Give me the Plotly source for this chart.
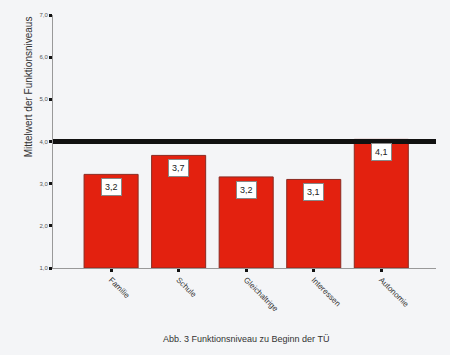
import plotly.graph_objects as go

categories = ["Familie", "Schule", "Gleichaltrige", "Interessen", "Autonomie"]
values = [3.22, 3.67, 3.16, 3.1, 4.05]
value_labels = ["3,2", "3,7", "3,2", "3,1", "4,1"]
tick_vals = [1, 2, 3, 4, 5, 6, 7]
tick_text = ["1,0", "2,0", "3,0", "4,0", "5,0", "6,0", "7,0"]
reference_level = 4.0

fig = go.Figure()
fig.add_trace(go.Bar(
    x=categories, y=[v - 1 for v in values], base=1,
    marker=dict(color="#e3210f", line=dict(color="#8a2a20", width=1)),
    width=0.8, hoverinfo="skip",
))

for c, v, lab in zip(categories, values, value_labels):
    fig.add_annotation(x=c, y=v, text=lab, showarrow=False, yanchor="top", yshift=-4,
                       font=dict(family="Liberation Sans, Arial", size=9, color="#222"),
                       bgcolor="white", bordercolor="#888", borderwidth=1, borderpad=3)

fig.add_shape(type="line", xref="paper", yref="y", x0=0, x1=1, y0=reference_level, y1=reference_level,
              line=dict(color="#111", width=5))

fig.add_annotation(xref="paper", yref="paper", x=0.504, y=-0.281, xanchor="center", yanchor="middle",
                   text="Abb. 3 Funktionsniveau zu Beginn der TÜ", showarrow=False,
                   font=dict(family="Liberation Sans, Arial", size=9, color="#333"))

fig.add_annotation(xref="paper", yref="paper", x=-0.065, y=0.715, xanchor="center", yanchor="middle",
                   text="Mittelwert der Funktionsniveaus", showarrow=False, textangle=-90,
                   font=dict(family="Liberation Sans, Arial", size=10, color="#333"))

fig.update_layout(
    width=450, height=355,
    margin=dict(l=53, r=14, t=12, b=87),
    paper_bgcolor="#f4f5f7", plot_bgcolor="#f4f5f7",
    showlegend=False, bargap=0.2,
    font=dict(family="Liberation Sans, Arial", color="#444"),
    xaxis=dict(range=[-0.86, 4.81], showgrid=False, showline=True, linecolor="#999", linewidth=1,
               ticks="outside", ticklen=3, tickwidth=3, tickcolor="#111",
               tickangle=45, tickfont=dict(size=8, color="#333"), zeroline=False),
    yaxis=dict(range=[1, 7], tickvals=tick_vals, ticktext=tick_text, showgrid=False,
               showline=True, linecolor="#999", linewidth=1, ticks="outside", ticklen=3,
               tickwidth=3, tickcolor="#111", tickfont=dict(size=6, color="#555"),
               zeroline=False),
)

fig.write_html("out.html")
